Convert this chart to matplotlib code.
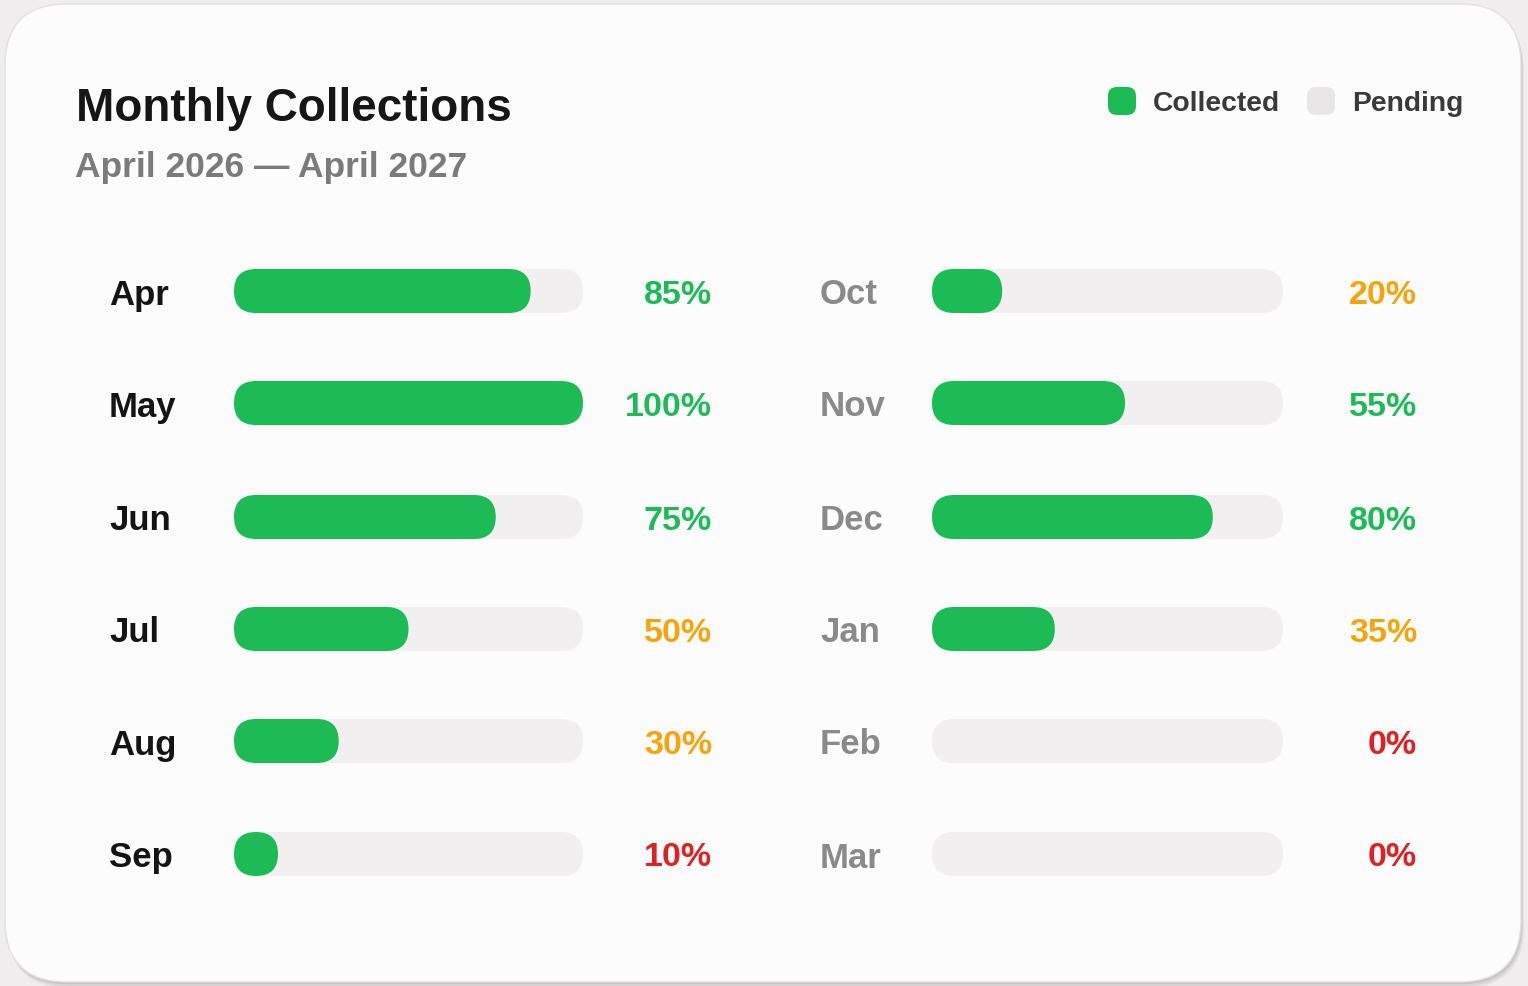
import matplotlib
matplotlib.use("Agg")
import matplotlib.pyplot as plt
from matplotlib.patches import FancyBboxPatch

plt.rcParams['font.family'] = ['Liberation Sans', 'DejaVu Sans']

# data
months_left = ['Apr', 'May', 'Jun', 'Jul', 'Aug', 'Sep']
collected_left = [85, 100, 75, 50, 30, 10]
months_right = ['Oct', 'Nov', 'Dec', 'Jan', 'Feb', 'Mar']
collected_right = [20, 55, 80, 35, 0, 0]

GREEN = '#1dbb55'
TRACK = '#f1eff0'
ORANGE = '#f7a40c'
RED = '#dc2222'

def pct_color(v):
    if v >= 55:
        return GREEN
    if v >= 20:
        return ORANGE
    return RED

W, H = 1528, 987
fig = plt.figure(figsize=(W / 100, H / 100), dpi=100)
fig.patch.set_facecolor('#efeded')
ax = fig.add_axes([0, 0, 1, 1])
ax.set_xlim(0, W)
ax.set_ylim(H, 0)
ax.axis('off')

# card with soft shadow
for off, a in [(6, 0.05), (4, 0.06), (2, 0.08)]:
    ax.add_patch(FancyBboxPatch((5 + off / 2, 5 + off), 1516, 978, boxstyle="round,pad=0,rounding_size=62",
                                fc='#000000', ec='none', alpha=a))
ax.add_patch(FancyBboxPatch((5, 5), 1516, 978, boxstyle="round,pad=0,rounding_size=62",
                            fc='#fcfcfc', ec='#e2e0e0', lw=1))

# title
ax.text(76, 109, 'Monthly Collections', fontsize=33, fontweight='bold', color='#161616', va='center', ha='left')
ax.text(75, 168, 'April 2026 \u2014 April 2027', fontsize=25.5, fontweight='bold', color='#7b7b7b', va='center', ha='left')

# legend
for x0, col, lab in [(1108, GREEN, 'Collected'), (1307, '#e8e6e7', 'Pending')]:
    ax.add_patch(FancyBboxPatch((x0, 88), 28, 28, boxstyle="round,pad=0,rounding_size=9", fc=col, ec='none'))
    ax.text(x0 + 45, 104, lab, fontsize=20.3, fontweight='bold', color='#3a3a3a', va='center', ha='left')

row_y = [292, 404, 518, 630, 742, 855]
bar_h = 44

def draw_column(months, vals, label_x, track_x, track_w, pct_x, label_color):
    for i, (m, v) in enumerate(zip(months, vals)):
        y = row_y[i]
        ax.text(label_x, y + 3, m, fontsize=25, fontweight='bold', color=label_color, va='center', ha='left')
        ax.add_patch(FancyBboxPatch((track_x, y - bar_h / 2), track_w, bar_h,
                                    boxstyle="round,pad=0,rounding_size=22", fc=TRACK, ec='none'))
        if v > 0:
            fw = max(track_w * v / 100, bar_h)
            ax.add_patch(FancyBboxPatch((track_x, y - bar_h / 2), fw, bar_h,
                                        boxstyle="round,pad=0,rounding_size=22", fc=GREEN, ec='none'))
        ax.text(pct_x, y + 3, f'{v}%', fontsize=24.5, fontweight='bold', color=pct_color(v), va='center', ha='right')

draw_column(months_left, collected_left, 109, 234, 349, 712, '#141414')
draw_column(months_right, collected_right, 820, 932, 351, 1417, '#8a8a8a')

fig.savefig('out.png', dpi=100, facecolor=fig.get_facecolor())
